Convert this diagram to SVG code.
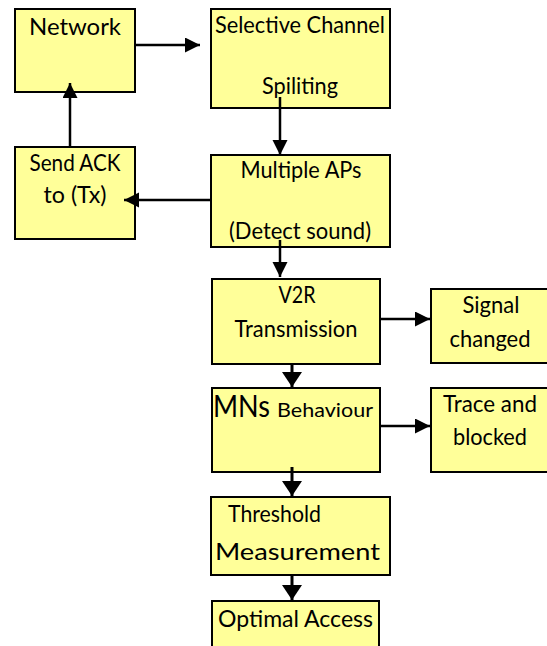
<svg xmlns="http://www.w3.org/2000/svg" width="547" height="646" viewBox="0 0 547 646">
  <style>
    .box { fill: #FFFF99; stroke: #000; stroke-width: 2; }
    .t { font-family: Lato, "Open Sans", "Liberation Sans", sans-serif; fill: #000; text-anchor: middle; font-size: 22.5px; }
    .c { fill: none; stroke: #000; stroke-width: 2.5; }
  </style>
  <defs>
    <marker id="arr" markerUnits="userSpaceOnUse" markerWidth="16" markerHeight="16" refX="15" refY="7.5" orient="auto">
      <path d="M0,0 L15,7.5 L0,15 Z" fill="#000"/>
    </marker>
    <marker id="arrB" markerUnits="userSpaceOnUse" markerWidth="20" markerHeight="22" refX="15" refY="10" orient="auto">
      <path d="M0,0 L15,10 L0,20 Z" fill="#000"/>
    </marker>
  </defs>

  <g id="network">
    <rect class="box" x="15" y="9" width="120" height="83"/>
    <text class="t" x="75" y="35" font-size="23.5" textLength="92" lengthAdjust="spacingAndGlyphs">Network</text>
  </g>
  <g id="selective-channel">
    <rect class="box" x="211" y="9" width="179" height="99"/>
    <text class="t" x="300" y="33" textLength="170" lengthAdjust="spacingAndGlyphs">Selective Channel</text>
    <text class="t" x="300" y="94" textLength="76" lengthAdjust="spacingAndGlyphs">Spiliting</text>
  </g>
  <g id="send-ack">
    <rect class="box" x="15" y="147" width="120" height="92"/>
    <text class="t" x="75" y="171" textLength="91" lengthAdjust="spacingAndGlyphs">Send ACK</text>
    <text class="t" x="75" y="203" textLength="63" lengthAdjust="spacingAndGlyphs">to (Tx)</text>
  </g>
  <g id="multiple-aps">
    <rect class="box" x="211" y="155" width="179" height="92"/>
    <text class="t" x="301" y="178" textLength="121" lengthAdjust="spacingAndGlyphs">Multiple APs</text>
    <text class="t" x="300" y="239" textLength="142" lengthAdjust="spacingAndGlyphs">(Detect sound)</text>
  </g>
  <g id="v2r">
    <rect class="box" x="212" y="279" width="168" height="85"/>
    <text class="t" x="297" y="303" textLength="37" lengthAdjust="spacingAndGlyphs">V2R</text>
    <text class="t" x="296" y="337" textLength="123" lengthAdjust="spacingAndGlyphs">Transmission</text>
  </g>
  <g id="signal-changed">
    <rect class="box" x="431" y="289" width="130" height="74"/>
    <text class="t" x="491" y="313" textLength="57" lengthAdjust="spacingAndGlyphs">Signal</text>
    <text class="t" x="490" y="347" textLength="81" lengthAdjust="spacingAndGlyphs">changed</text>
  </g>
  <g id="mns-behaviour">
    <rect class="box" x="212" y="388" width="168" height="84"/>
    <text class="t" x="213" y="417" style="text-anchor:start"><tspan font-size="31" textLength="57" lengthAdjust="spacingAndGlyphs">MNs</tspan><tspan x="277" font-size="19.5" textLength="96" lengthAdjust="spacingAndGlyphs">Behaviour</tspan></text>
  </g>
  <g id="trace-blocked">
    <rect class="box" x="431" y="388" width="130" height="84"/>
    <text class="t" x="490" y="412" textLength="94" lengthAdjust="spacingAndGlyphs">Trace and</text>
    <text class="t" x="490" y="445" textLength="74" lengthAdjust="spacingAndGlyphs">blocked</text>
  </g>
  <g id="threshold">
    <rect class="box" x="211" y="497" width="179" height="78"/>
    <text class="t" x="274.5" y="522" font-size="21" textLength="93" lengthAdjust="spacingAndGlyphs">Threshold</text>
    <text class="t" x="297.5" y="560" font-size="26" textLength="165" lengthAdjust="spacingAndGlyphs">Measurement</text>
  </g>
  <g id="optimal-access">
    <rect class="box" x="212" y="601" width="167" height="60"/>
    <text class="t" x="295.5" y="627" textLength="155" lengthAdjust="spacingAndGlyphs">Optimal Access</text>
  </g>

  <g id="connectors">
    <path class="c" d="M135,45 H200" marker-end="url(#arr)"/>
    <path class="c" d="M70,147 V83" marker-end="url(#arr)"/>
    <path class="c" d="M280,97 V155" marker-end="url(#arr)"/>
    <path class="c" d="M211,200 H124" marker-end="url(#arr)"/>
    <path class="c" d="M280,240 V277" marker-end="url(#arr)"/>
    <path class="c" d="M380,319 H430" marker-end="url(#arr)"/>
    <path class="c" style="stroke-width:3" d="M292,364 V387" marker-end="url(#arrB)"/>
    <path class="c" d="M380,426 H430" marker-end="url(#arr)"/>
    <path class="c" style="stroke-width:3" d="M292,467 V496" marker-end="url(#arrB)"/>
    <path class="c" style="stroke-width:3" d="M292,575 V600" marker-end="url(#arrB)"/>
  </g>
</svg>
